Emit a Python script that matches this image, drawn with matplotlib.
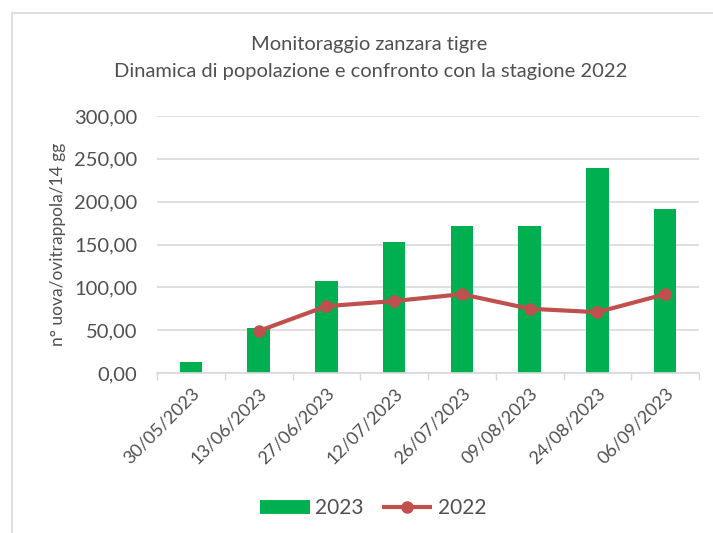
import matplotlib.pyplot as plt
import numpy as np
from matplotlib.patches import Rectangle
from matplotlib.lines import Line2D
from matplotlib.ticker import FuncFormatter

plt.rcParams['font.family'] = ['Lato', 'DejaVu Sans']

dates = ["30/05/2023", "13/06/2023", "27/06/2023", "12/07/2023",
         "26/07/2023", "09/08/2023", "24/08/2023", "06/09/2023"]
eggs_2023 = [13, 53, 107, 153, 172, 172, 239, 191]
eggs_2022 = [np.nan, 49, 78, 84, 92, 75, 71, 92]

GREEN = "#00B050"
RED = "#C0504D"
TEXT = "#505050"

fig = plt.figure(figsize=(7.13, 5.33), dpi=100)
ax = fig.add_axes([157 / 713, 1 - 373 / 533, 542 / 713, 257 / 533])

# chart frame: only the left and top edges fall inside the image
fig.patches.append(Rectangle((12 / 713, -0.1), 1.2, 1.1 - 13 / 533, transform=fig.transFigure,
                             fill=False, edgecolor="#D9D9D9", linewidth=1.2))

x = np.arange(len(dates))
ax.bar(x, eggs_2023, width=0.33, color=GREEN, zorder=2)
ax.plot(x, eggs_2022, color=RED, linewidth=3, marker="o", markersize=8, zorder=3)

ax.set_xlim(-0.5, len(dates) - 0.5)
ax.set_ylim(0, 300)
ax.set_yticks(np.arange(0, 301, 50))
ax.yaxis.set_major_formatter(FuncFormatter(lambda v, p: f"{v:.2f}".replace(".", ",")))
ax.grid(axis="y", color="#D9D9D9", linewidth=1.2, zorder=0)
ax.set_axisbelow(True)

ax.set_xticks(x)
ax.set_xticklabels(dates, rotation=45, ha="right", rotation_mode="anchor",
                   fontsize=13, color=TEXT)
ax.set_xticks(np.arange(-0.5, len(dates)), minor=True)
ax.tick_params(axis="x", which="major", length=0, pad=9)
ax.tick_params(axis="x", which="minor", length=5, color="#D9D9D9", width=1)
ax.tick_params(axis="y", length=0, labelsize=14.5, labelcolor=TEXT, pad=14)

for side in ["top", "right", "left"]:
    ax.spines[side].set_visible(False)
ax.spines["bottom"].set_color("#D9D9D9")
ax.spines["bottom"].set_linewidth(1.2)

ax.set_ylabel("n° uova/ovitrappola/14 gg", fontsize=12.5, color=TEXT, labelpad=6)

fig.text(369 / 713, 1 - 45 / 533, "Monitoraggio zanzara tigre",
         ha="center", va="center", fontsize=14.5, color=TEXT)
fig.text(371 / 713, 1 - 72 / 533, "Dinamica di popolazione e confronto con la stagione 2022",
         ha="center", va="center", fontsize=14.5, color=TEXT)

handles = [Line2D([0], [0], color=GREEN, linewidth=10, solid_capstyle="butt"),
           Line2D([0], [0], color=RED, linewidth=3, marker="o", markersize=8,
                  solid_capstyle="butt")]
fig.legend(handles, ["2023", "2022"], loc="center", bbox_to_anchor=(373 / 713, 1 - 508 / 533),
           ncol=2, frameon=False, fontsize=15, labelcolor=TEXT, handlelength=2.4,
           columnspacing=0.9, handletextpad=0.25)

fig.savefig("out.png", dpi=100)
